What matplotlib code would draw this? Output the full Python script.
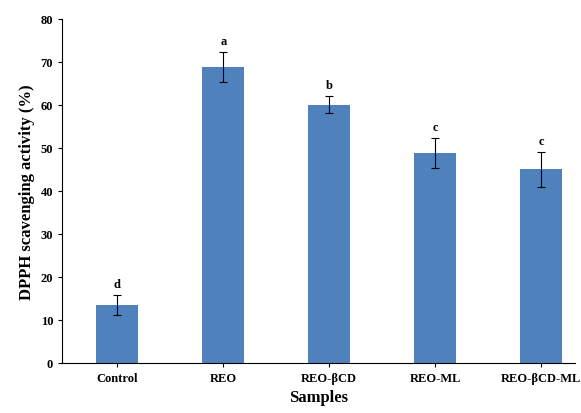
import matplotlib
matplotlib.use("Agg")
import matplotlib.pyplot as plt

categories = ["Control", "REO", "REO-βCD", "REO-ML", "REO-βCD-ML"]
values = [13.5, 68.8, 60.0, 48.8, 45.0]
errors = [2.3, 3.4, 2.0, 3.5, 4.0]
letters = ["d", "a", "b", "c", "c"]

plt.rcParams['font.family'] = ['Liberation Serif', 'DejaVu Serif']
fig = plt.figure(figsize=(5.81, 4.14), dpi=100)
ax = fig.add_axes([0.107, 0.121, 0.883, 0.831])
x = range(len(categories))
ax.bar(x, values, width=0.4, color="#4F81BD", yerr=errors, capsize=3,
       error_kw=dict(elinewidth=0.8, capthick=0.8, ecolor="black"))
for i, (v, e, l) in enumerate(zip(values, errors, letters)):
    ax.text(i, v + e + 1.2, l, ha="center", va="bottom", fontsize=9, fontweight="bold")
ax.set_xlim(-0.52, 4.32)
ax.set_ylim(0, 80)
ax.set_yticks(range(0, 81, 10))
ax.set_xticks(list(x))
ax.set_xticklabels(categories, fontsize=9, fontweight="bold")
ax.tick_params(axis='y', labelsize=9)
for t in ax.get_yticklabels():
    t.set_fontweight("bold")
ax.tick_params(direction="out", length=3)
ax.spines["top"].set_visible(False)
ax.spines["right"].set_visible(False)
ax.set_ylabel("DPPH scavenging activity (%)", fontsize=12, fontweight="bold")
ax.set_xlabel("Samples", fontsize=12, fontweight="bold", labelpad=4)
fig.savefig("out.png", dpi=100)
